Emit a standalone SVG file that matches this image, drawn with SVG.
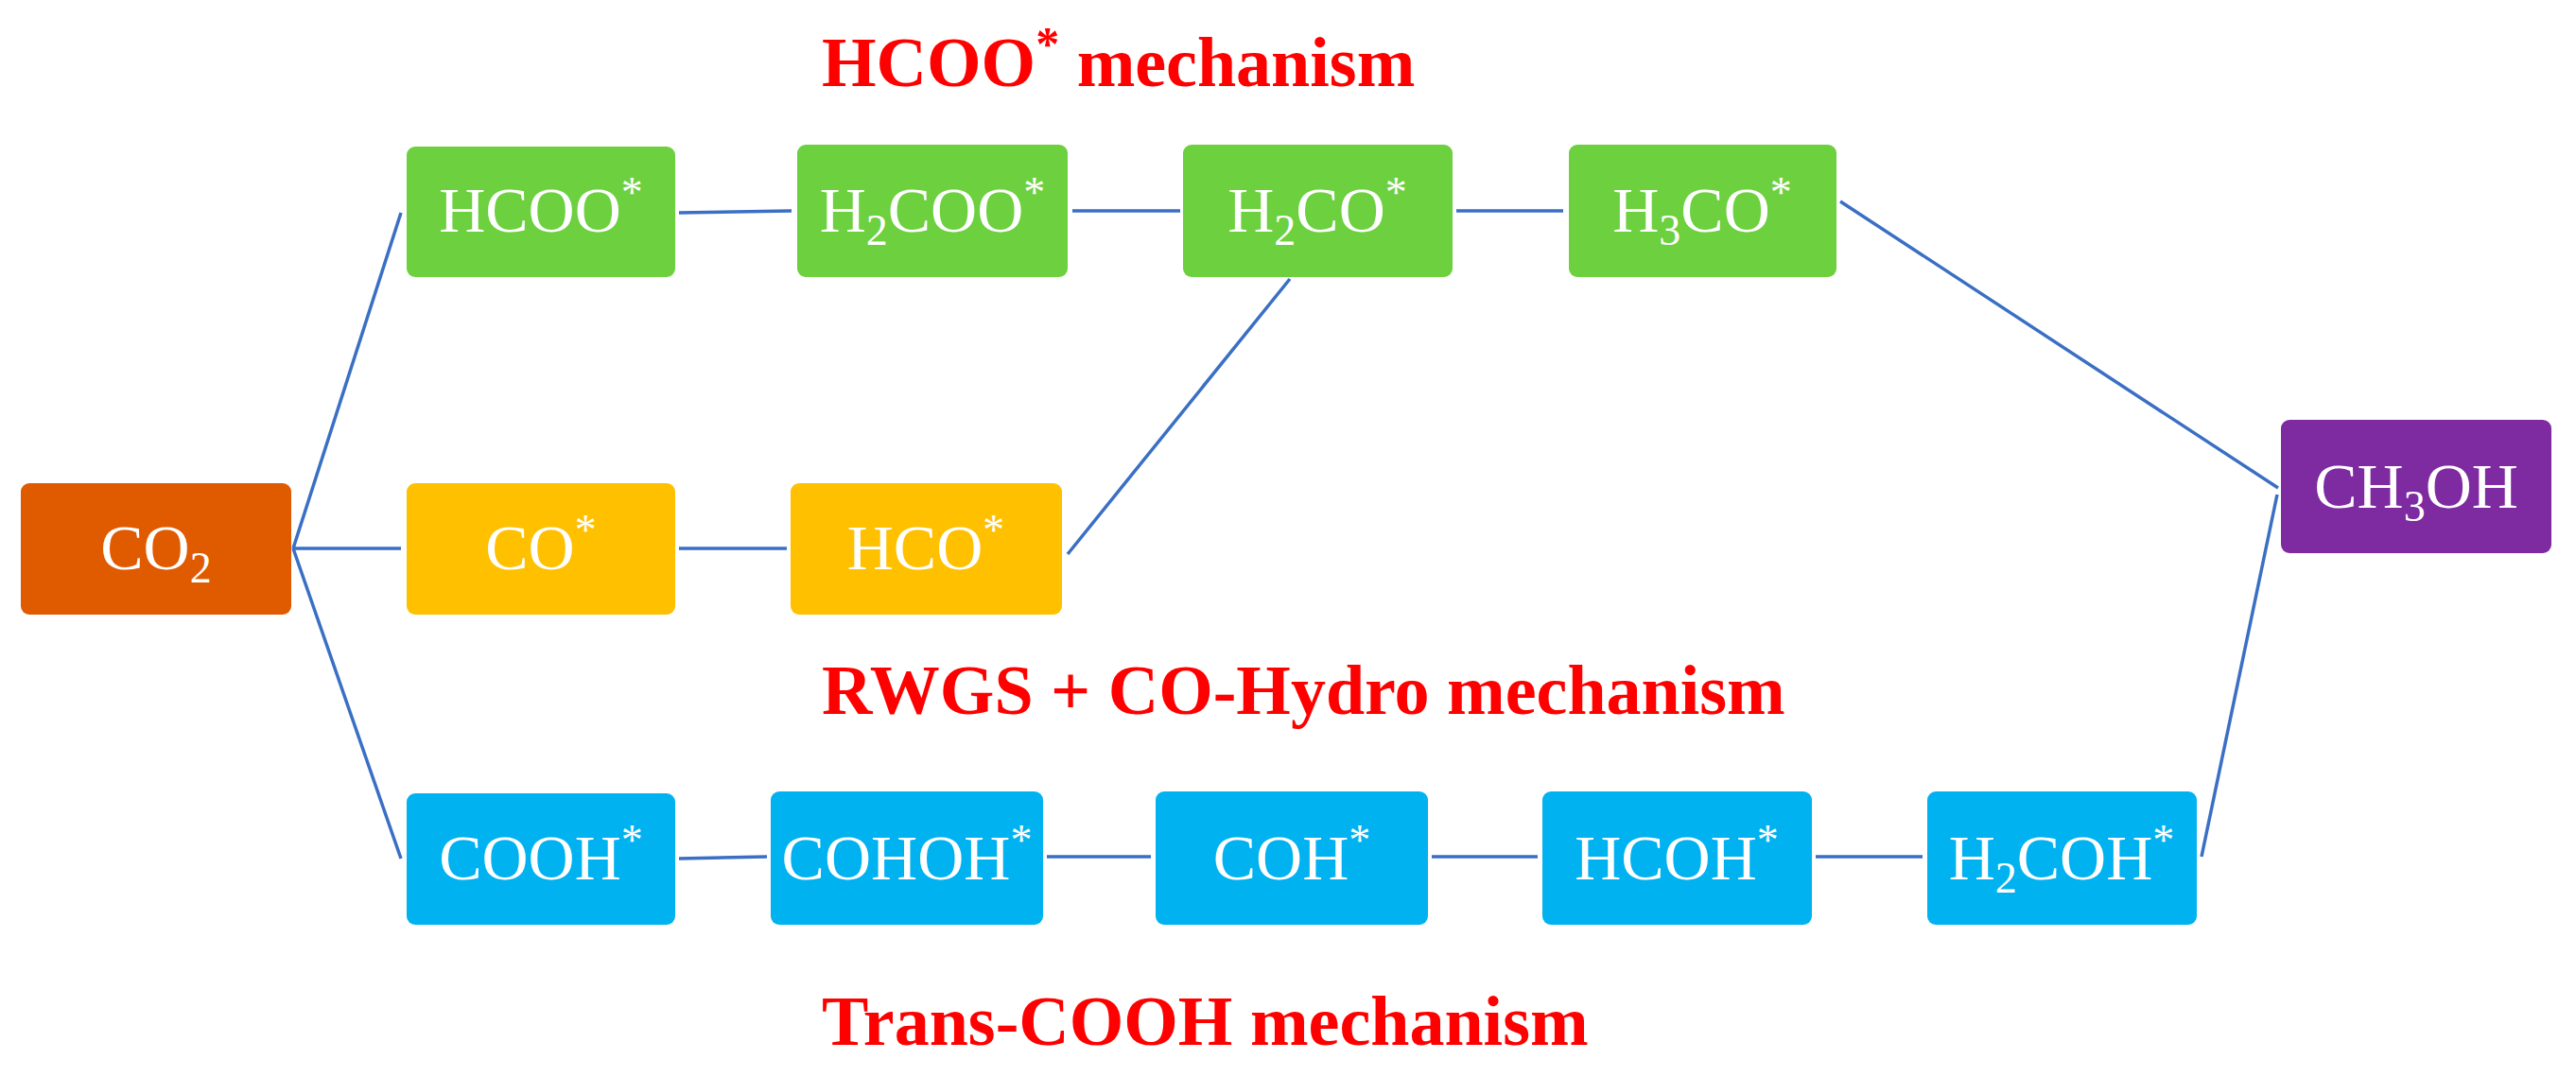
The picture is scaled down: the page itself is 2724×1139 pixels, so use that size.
<svg xmlns="http://www.w3.org/2000/svg" width="2724" height="1139" viewBox="0 0 2724 1139">
<style>
.n{font-family:"Liberation Serif","Times New Roman",serif;font-size:68px;fill:#fff;text-anchor:middle}
.s{font-size:46px}
.t{font-family:"Liberation Serif","Times New Roman",serif;font-size:74px;font-weight:bold;fill:#ff0000}
.c line{stroke:#3a6fc4;stroke-width:3.5}
.g{fill:#6cd03f}.y{fill:#ffc000}.b{fill:#00b2f0}
</style>
<rect width="2724" height="1139" fill="#fff"/>
<text class="t" x="869" y="91">HCOO<tspan dy="-28" font-size="50">*</tspan><tspan dy="28"> mechanism</tspan></text>
<text class="t" x="869" y="755">RWGS + CO-Hydro mechanism</text>
<text class="t" x="869" y="1105">Trans-COOH mechanism</text>
<g class="c">
<line x1="310" y1="580" x2="424" y2="225"/>
<line x1="310" y1="580" x2="424" y2="580"/>
<line x1="310" y1="580" x2="424" y2="908"/>
<line x1="718" y1="225" x2="837" y2="223"/>
<line x1="1134" y1="223" x2="1248" y2="223"/>
<line x1="1540" y1="223" x2="1653" y2="223"/>
<line x1="1129" y1="586" x2="1364" y2="295"/>
<line x1="1946" y1="213" x2="2409" y2="516"/>
<line x1="718" y1="580" x2="832" y2="580"/>
<line x1="2328" y1="906" x2="2408" y2="523"/>
<line x1="718" y1="908" x2="811" y2="906"/>
<line x1="1107" y1="906" x2="1217" y2="906"/>
<line x1="1514" y1="906" x2="1626" y2="906"/>
<line x1="1920" y1="906" x2="2033" y2="906"/>
</g>
<g id="co2"><rect x="22" y="511" width="286" height="139" rx="9" fill="#e05a00"/><text class="n" x="165" y="602">CO<tspan class="s" dy="14">2</tspan></text></g>
<g id="hcoo"><rect class="g" x="430" y="155" width="284" height="138" rx="9"/><text class="n" x="572" y="245">HCOO<tspan class="s" dy="-26">*</tspan></text></g>
<g id="h2coo"><rect class="g" x="843" y="153" width="286" height="140" rx="9"/><text class="n" x="986" y="245">H<tspan class="s" dy="14">2</tspan><tspan dy="-14">COO</tspan><tspan class="s" dy="-26">*</tspan></text></g>
<g id="h2co"><rect class="g" x="1251" y="153" width="285" height="140" rx="9"/><text class="n" x="1393" y="245">H<tspan class="s" dy="14">2</tspan><tspan dy="-14">CO</tspan><tspan class="s" dy="-26">*</tspan></text></g>
<g id="h3co"><rect class="g" x="1659" y="153" width="283" height="140" rx="9"/><text class="n" x="1800" y="245">H<tspan class="s" dy="14">3</tspan><tspan dy="-14">CO</tspan><tspan class="s" dy="-26">*</tspan></text></g>
<g id="co"><rect class="y" x="430" y="511" width="284" height="139" rx="9"/><text class="n" x="572" y="602">CO<tspan class="s" dy="-26">*</tspan></text></g>
<g id="hco"><rect class="y" x="836" y="511" width="287" height="139" rx="9"/><text class="n" x="979" y="602">HCO<tspan class="s" dy="-26">*</tspan></text></g>
<g id="cooh"><rect class="b" x="430" y="839" width="284" height="139" rx="9"/><text class="n" x="572" y="930">COOH<tspan class="s" dy="-26">*</tspan></text></g>
<g id="cohoh"><rect class="b" x="815" y="837" width="288" height="141" rx="9"/><text class="n" x="959" y="930">COHOH<tspan class="s" dy="-26">*</tspan></text></g>
<g id="coh"><rect class="b" x="1222" y="837" width="288" height="141" rx="9"/><text class="n" x="1366" y="930">COH<tspan class="s" dy="-26">*</tspan></text></g>
<g id="hcoh"><rect class="b" x="1631" y="837" width="285" height="141" rx="9"/><text class="n" x="1773" y="930">HCOH<tspan class="s" dy="-26">*</tspan></text></g>
<g id="h2coh"><rect class="b" x="2038" y="837" width="285" height="141" rx="9"/><text class="n" x="2180" y="930">H<tspan class="s" dy="14">2</tspan><tspan dy="-14">COH</tspan><tspan class="s" dy="-26">*</tspan></text></g>
<g id="ch3oh"><rect x="2412" y="444" width="286" height="141" rx="9" fill="#7e2aa0"/><text class="n" x="2555" y="537">CH<tspan class="s" dy="14">3</tspan><tspan dy="-14">OH</tspan></text></g>
</svg>
